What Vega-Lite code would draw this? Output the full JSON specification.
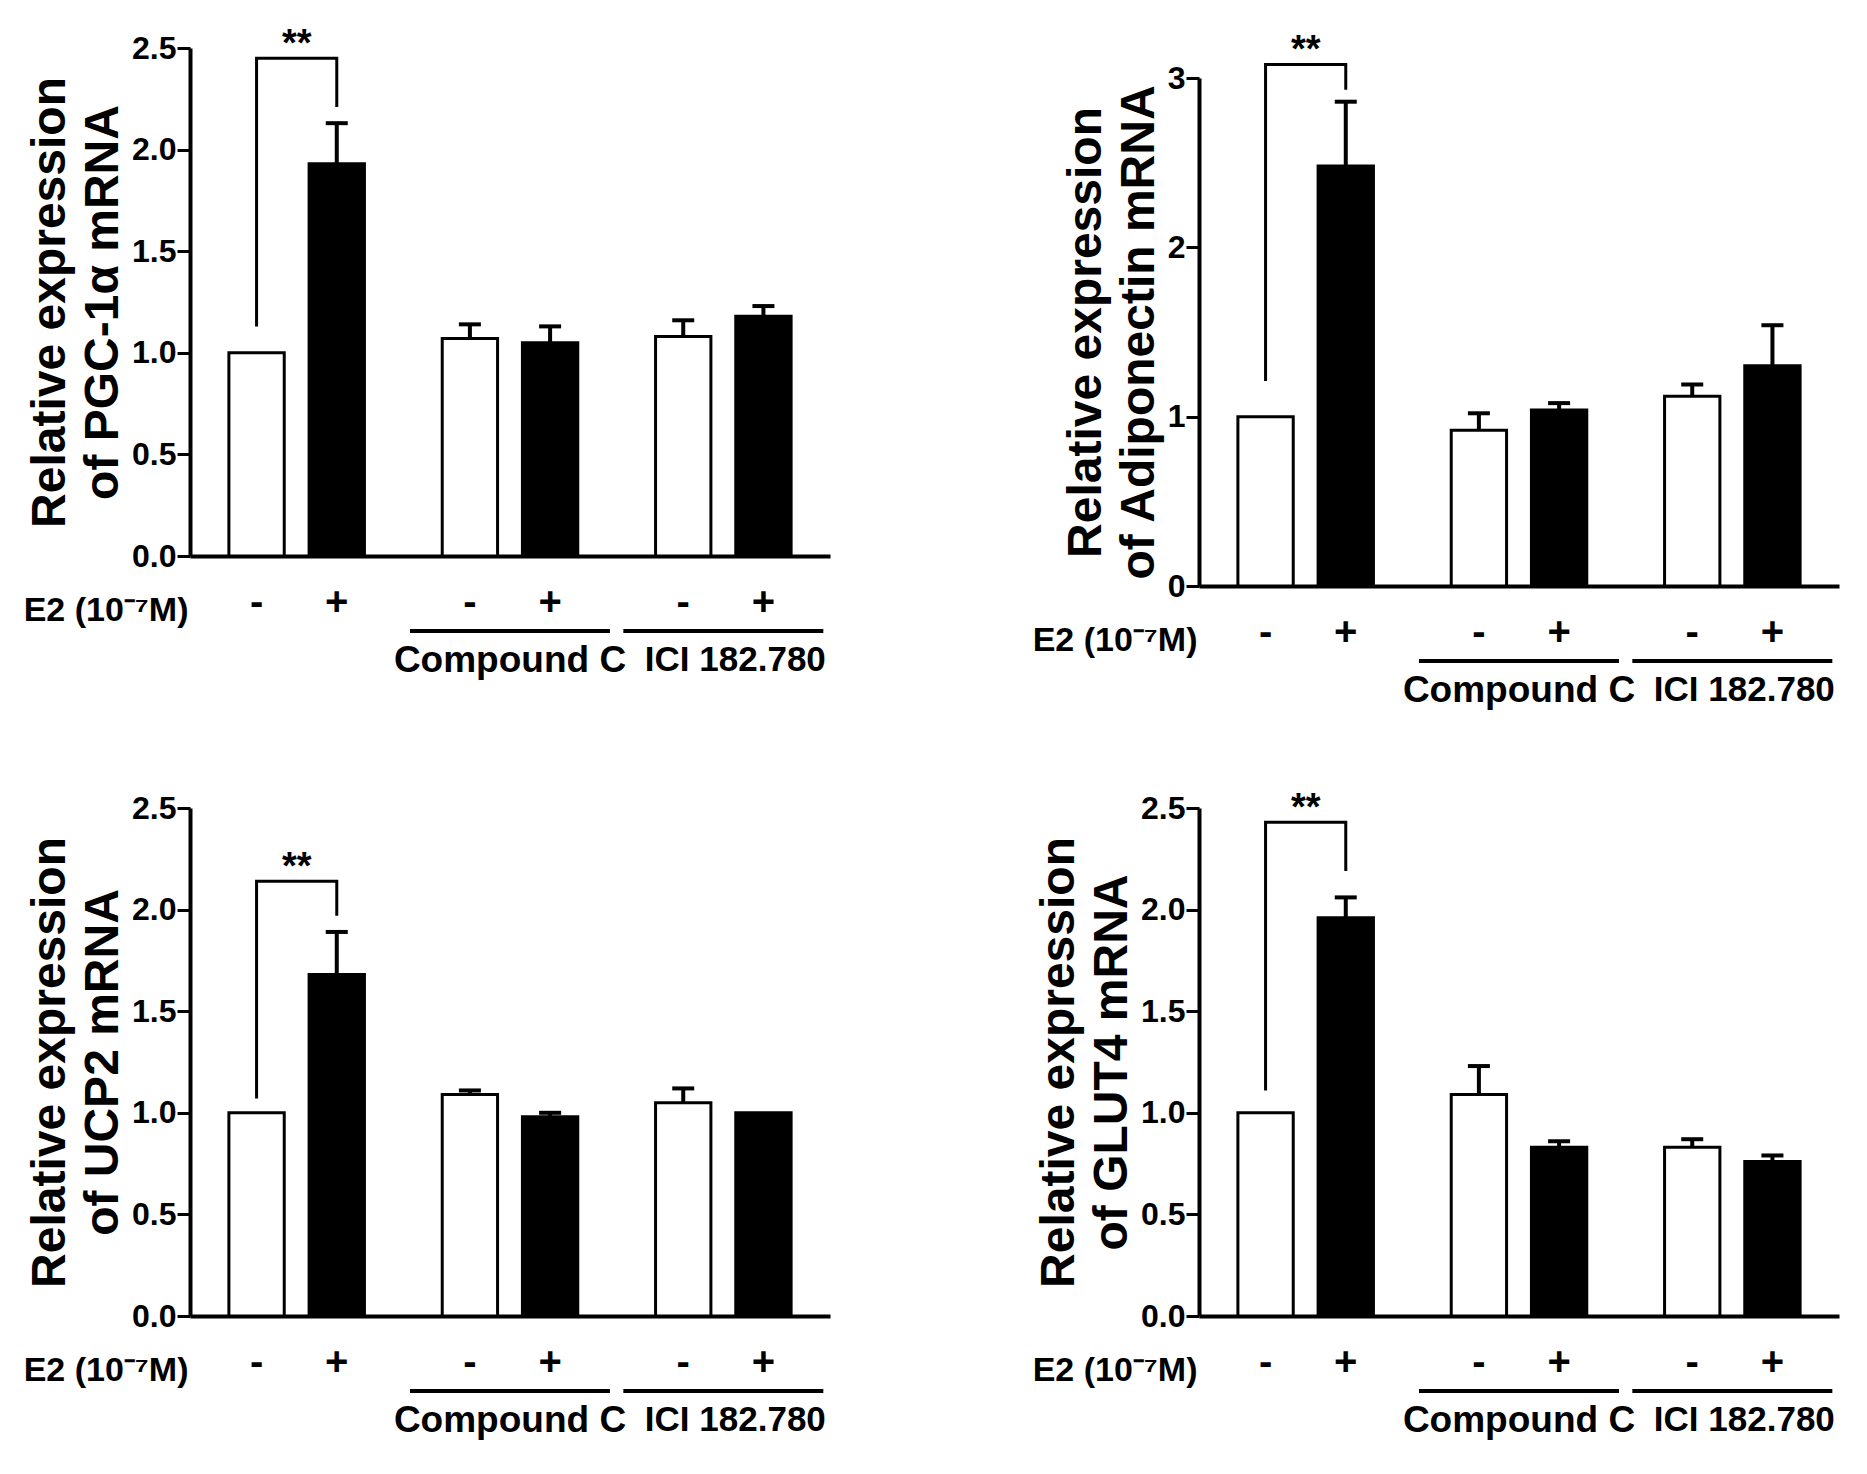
{
  "$schema": "https://vega.github.io/schema/vega-lite/v6.json",
  "background": "white",
  "padding": {"left": 23, "top": 26, "right": 5, "bottom": 5},
  "datasets": {
    "bars": [
      {"gene": "PGC-1α", "group": "Control", "e2": "-", "mean": 1.0, "upper": 1.0},
      {"gene": "PGC-1α", "group": "Control", "e2": "+", "mean": 1.93, "upper": 2.13},
      {"gene": "PGC-1α", "group": "Compound C", "e2": "-", "mean": 1.07, "upper": 1.14},
      {"gene": "PGC-1α", "group": "Compound C", "e2": "+", "mean": 1.05, "upper": 1.13},
      {"gene": "PGC-1α", "group": "ICI 182.780", "e2": "-", "mean": 1.08, "upper": 1.16},
      {"gene": "PGC-1α", "group": "ICI 182.780", "e2": "+", "mean": 1.18, "upper": 1.23},
      {"gene": "Adiponectin", "group": "Control", "e2": "-", "mean": 1.0, "upper": 1.0},
      {"gene": "Adiponectin", "group": "Control", "e2": "+", "mean": 2.48, "upper": 2.86},
      {"gene": "Adiponectin", "group": "Compound C", "e2": "-", "mean": 0.92, "upper": 1.02},
      {"gene": "Adiponectin", "group": "Compound C", "e2": "+", "mean": 1.04, "upper": 1.08},
      {"gene": "Adiponectin", "group": "ICI 182.780", "e2": "-", "mean": 1.12, "upper": 1.19},
      {"gene": "Adiponectin", "group": "ICI 182.780", "e2": "+", "mean": 1.3, "upper": 1.54},
      {"gene": "UCP2", "group": "Control", "e2": "-", "mean": 1.0, "upper": 1.0},
      {"gene": "UCP2", "group": "Control", "e2": "+", "mean": 1.68, "upper": 1.89},
      {"gene": "UCP2", "group": "Compound C", "e2": "-", "mean": 1.09, "upper": 1.11},
      {"gene": "UCP2", "group": "Compound C", "e2": "+", "mean": 0.98, "upper": 1.0},
      {"gene": "UCP2", "group": "ICI 182.780", "e2": "-", "mean": 1.05, "upper": 1.12},
      {"gene": "UCP2", "group": "ICI 182.780", "e2": "+", "mean": 1.0, "upper": 1.0},
      {"gene": "GLUT4", "group": "Control", "e2": "-", "mean": 1.0, "upper": 1.0},
      {"gene": "GLUT4", "group": "Control", "e2": "+", "mean": 1.96, "upper": 2.06},
      {"gene": "GLUT4", "group": "Compound C", "e2": "-", "mean": 1.09, "upper": 1.23},
      {"gene": "GLUT4", "group": "Compound C", "e2": "+", "mean": 0.83, "upper": 0.86},
      {"gene": "GLUT4", "group": "ICI 182.780", "e2": "-", "mean": 0.83, "upper": 0.87},
      {"gene": "GLUT4", "group": "ICI 182.780", "e2": "+", "mean": 0.76, "upper": 0.79}
    ],
    "brackets": [
      {"gene": "PGC-1α", "group": "Control", "e2": "-", "step": 1, "y": 1.13},
      {"gene": "PGC-1α", "group": "Control", "e2": "-", "step": 2, "y": 2.45},
      {"gene": "PGC-1α", "group": "Control", "e2": "+", "step": 3, "y": 2.45},
      {"gene": "PGC-1α", "group": "Control", "e2": "+", "step": 4, "y": 2.21},
      {"gene": "Adiponectin", "group": "Control", "e2": "-", "step": 1, "y": 1.21},
      {"gene": "Adiponectin", "group": "Control", "e2": "-", "step": 2, "y": 3.08},
      {"gene": "Adiponectin", "group": "Control", "e2": "+", "step": 3, "y": 3.08},
      {"gene": "Adiponectin", "group": "Control", "e2": "+", "step": 4, "y": 2.93},
      {"gene": "UCP2", "group": "Control", "e2": "-", "step": 1, "y": 1.07},
      {"gene": "UCP2", "group": "Control", "e2": "-", "step": 2, "y": 2.14},
      {"gene": "UCP2", "group": "Control", "e2": "+", "step": 3, "y": 2.14},
      {"gene": "UCP2", "group": "Control", "e2": "+", "step": 4, "y": 1.97},
      {"gene": "GLUT4", "group": "Control", "e2": "-", "step": 1, "y": 1.11},
      {"gene": "GLUT4", "group": "Control", "e2": "-", "step": 2, "y": 2.43},
      {"gene": "GLUT4", "group": "Control", "e2": "+", "step": 3, "y": 2.43},
      {"gene": "GLUT4", "group": "Control", "e2": "+", "step": 4, "y": 2.19}
    ]
  },
  "vconcat": [
    {
      "hconcat": [
        {
          "width": 640, "height": 508,
          "layer": [
            {
              "data": {"name": "bars"},
              "transform": [{"filter": "datum.gene == 'PGC-1α'"}],
              "mark": {"type": "bar", "stroke": "black", "strokeWidth": 3},
              "encoding": {
                "x": {"field": "group", "type": "nominal", "scale": {"domain": ["Control", "Compound C", "ICI 182.780"], "paddingInner": 0, "paddingOuter": 0}, "axis": {"title": "E2 (10⁻⁷M)"}},
                "xOffset": {"field": "e2", "type": "nominal", "scale": {"domain": ["-", "+"], "paddingInner": 0.31, "paddingOuter": 0.485}},
                "y": {"field": "mean", "type": "quantitative", "scale": {"domain": [0, 2.5], "nice": false}, "axis": {"values": [0, 0.5, 1, 1.5, 2, 2.5], "format": ".1f", "title": ["Relative expression", "of PGC-1α mRNA"]}},
                "fill": {"field": "e2", "type": "nominal", "scale": {"domain": ["-", "+"], "range": ["white", "black"]}, "legend": null}
              }
            },
            {
              "data": {"name": "bars"},
              "transform": [{"filter": "datum.gene == 'PGC-1α' && datum.upper > datum.mean"}],
              "mark": {"type": "rule", "color": "black", "strokeWidth": 4},
              "encoding": {
                "x": {"field": "group", "type": "nominal", "scale": {"domain": ["Control", "Compound C", "ICI 182.780"], "paddingInner": 0, "paddingOuter": 0}, "axis": {"title": "E2 (10⁻⁷M)"}},
                "xOffset": {"field": "e2", "type": "nominal", "scale": {"domain": ["-", "+"], "paddingInner": 0.31, "paddingOuter": 0.485}},
                "y": {"field": "mean", "type": "quantitative", "scale": {"domain": [0, 2.5], "nice": false}, "axis": {"values": [0, 0.5, 1, 1.5, 2, 2.5], "format": ".1f", "title": ["Relative expression", "of PGC-1α mRNA"]}},
                "y2": {"field": "upper"}
              }
            },
            {
              "data": {"name": "bars"},
              "transform": [{"filter": "datum.gene == 'PGC-1α' && datum.upper > datum.mean"}],
              "mark": {"type": "tick", "orient": "horizontal", "color": "black", "size": 22, "thickness": 4, "opacity": 1},
              "encoding": {
                "x": {"field": "group", "type": "nominal", "scale": {"domain": ["Control", "Compound C", "ICI 182.780"], "paddingInner": 0, "paddingOuter": 0}, "axis": {"title": "E2 (10⁻⁷M)"}},
                "xOffset": {"field": "e2", "type": "nominal", "scale": {"domain": ["-", "+"], "paddingInner": 0.31, "paddingOuter": 0.485}},
                "y": {"field": "upper", "type": "quantitative", "scale": {"domain": [0, 2.5], "nice": false}, "axis": {"values": [0, 0.5, 1, 1.5, 2, 2.5], "format": ".1f", "title": ["Relative expression", "of PGC-1α mRNA"]}}
              }
            },
            {
              "data": {"name": "bars"},
              "transform": [{"filter": "datum.gene == 'PGC-1α'"}],
              "mark": {"type": "text", "dy": 47, "baseline": "middle", "fontSize": 40, "fontWeight": "bold", "color": "black"},
              "encoding": {
                "x": {"field": "group", "type": "nominal", "scale": {"domain": ["Control", "Compound C", "ICI 182.780"], "paddingInner": 0, "paddingOuter": 0}, "axis": {"title": "E2 (10⁻⁷M)"}},
                "xOffset": {"field": "e2", "type": "nominal", "scale": {"domain": ["-", "+"], "paddingInner": 0.31, "paddingOuter": 0.485}},
                "y": {"datum": 0, "type": "quantitative", "scale": {"domain": [0, 2.5], "nice": false}, "axis": {"values": [0, 0.5, 1, 1.5, 2, 2.5], "format": ".1f", "title": ["Relative expression", "of PGC-1α mRNA"]}},
                "text": {"field": "e2"}
              }
            },
            {
              "data": {"name": "bars"},
              "transform": [{"filter": "datum.gene == 'PGC-1α' && datum.e2 == '-' && datum.group != 'Control'"}],
              "mark": {"type": "tick", "orient": "horizontal", "color": "black", "size": 200, "thickness": 4, "yOffset": 75, "opacity": 1},
              "encoding": {
                "x": {"field": "group", "type": "nominal", "scale": {"domain": ["Control", "Compound C", "ICI 182.780"], "paddingInner": 0, "paddingOuter": 0}, "axis": {"title": "E2 (10⁻⁷M)"}},
                "y": {"datum": 0, "type": "quantitative", "scale": {"domain": [0, 2.5], "nice": false}, "axis": {"values": [0, 0.5, 1, 1.5, 2, 2.5], "format": ".1f", "title": ["Relative expression", "of PGC-1α mRNA"]}}
              }
            },
            {
              "data": {"name": "brackets"},
              "transform": [{"filter": "datum.gene == 'PGC-1α'"}],
              "mark": {"type": "line", "color": "black", "strokeWidth": 3},
              "encoding": {
                "x": {"field": "group", "type": "nominal", "scale": {"domain": ["Control", "Compound C", "ICI 182.780"], "paddingInner": 0, "paddingOuter": 0}, "axis": {"title": "E2 (10⁻⁷M)"}},
                "xOffset": {"field": "e2", "type": "nominal", "scale": {"domain": ["-", "+"], "paddingInner": 0.31, "paddingOuter": 0.485}},
                "y": {"field": "y", "type": "quantitative", "scale": {"domain": [0, 2.5], "nice": false}, "axis": {"values": [0, 0.5, 1, 1.5, 2, 2.5], "format": ".1f", "title": ["Relative expression", "of PGC-1α mRNA"]}},
                "order": {"field": "step", "type": "quantitative"}
              }
            },
            {
              "data": {"name": "brackets"},
              "transform": [{"filter": "datum.gene == 'PGC-1α' && datum.step == 2"}],
              "mark": {"type": "text", "text": "**", "dy": -2, "baseline": "alphabetic", "fontSize": 38, "fontWeight": "bold", "color": "black"},
              "encoding": {
                "x": {"field": "group", "type": "nominal", "scale": {"domain": ["Control", "Compound C", "ICI 182.780"], "paddingInner": 0, "paddingOuter": 0}, "axis": {"title": "E2 (10⁻⁷M)"}},
                "y": {"field": "y", "type": "quantitative", "scale": {"domain": [0, 2.5], "nice": false}, "axis": {"values": [0, 0.5, 1, 1.5, 2, 2.5], "format": ".1f", "title": ["Relative expression", "of PGC-1α mRNA"]}}
              }
            }
          ]
        },
        {
          "width": 640, "height": 538,
          "layer": [
            {
              "data": {"name": "bars"},
              "transform": [{"filter": "datum.gene == 'Adiponectin'"}],
              "mark": {"type": "bar", "stroke": "black", "strokeWidth": 3},
              "encoding": {
                "x": {"field": "group", "type": "nominal", "scale": {"domain": ["Control", "Compound C", "ICI 182.780"], "paddingInner": 0, "paddingOuter": 0}, "axis": {"title": "E2 (10⁻⁷M)"}},
                "xOffset": {"field": "e2", "type": "nominal", "scale": {"domain": ["-", "+"], "paddingInner": 0.31, "paddingOuter": 0.485}},
                "y": {"field": "mean", "type": "quantitative", "scale": {"domain": [0, 3], "range": [538, 30], "nice": false}, "axis": {"values": [0, 1, 2, 3], "format": "d", "title": ["Relative expression", "of Adiponectin mRNA"]}},
                "fill": {"field": "e2", "type": "nominal", "scale": {"domain": ["-", "+"], "range": ["white", "black"]}, "legend": null}
              }
            },
            {
              "data": {"name": "bars"},
              "transform": [{"filter": "datum.gene == 'Adiponectin' && datum.upper > datum.mean"}],
              "mark": {"type": "rule", "color": "black", "strokeWidth": 4},
              "encoding": {
                "x": {"field": "group", "type": "nominal", "scale": {"domain": ["Control", "Compound C", "ICI 182.780"], "paddingInner": 0, "paddingOuter": 0}, "axis": {"title": "E2 (10⁻⁷M)"}},
                "xOffset": {"field": "e2", "type": "nominal", "scale": {"domain": ["-", "+"], "paddingInner": 0.31, "paddingOuter": 0.485}},
                "y": {"field": "mean", "type": "quantitative", "scale": {"domain": [0, 3], "range": [538, 30], "nice": false}, "axis": {"values": [0, 1, 2, 3], "format": "d", "title": ["Relative expression", "of Adiponectin mRNA"]}},
                "y2": {"field": "upper"}
              }
            },
            {
              "data": {"name": "bars"},
              "transform": [{"filter": "datum.gene == 'Adiponectin' && datum.upper > datum.mean"}],
              "mark": {"type": "tick", "orient": "horizontal", "color": "black", "size": 22, "thickness": 4, "opacity": 1},
              "encoding": {
                "x": {"field": "group", "type": "nominal", "scale": {"domain": ["Control", "Compound C", "ICI 182.780"], "paddingInner": 0, "paddingOuter": 0}, "axis": {"title": "E2 (10⁻⁷M)"}},
                "xOffset": {"field": "e2", "type": "nominal", "scale": {"domain": ["-", "+"], "paddingInner": 0.31, "paddingOuter": 0.485}},
                "y": {"field": "upper", "type": "quantitative", "scale": {"domain": [0, 3], "range": [538, 30], "nice": false}, "axis": {"values": [0, 1, 2, 3], "format": "d", "title": ["Relative expression", "of Adiponectin mRNA"]}}
              }
            },
            {
              "data": {"name": "bars"},
              "transform": [{"filter": "datum.gene == 'Adiponectin'"}],
              "mark": {"type": "text", "dy": 47, "baseline": "middle", "fontSize": 40, "fontWeight": "bold", "color": "black"},
              "encoding": {
                "x": {"field": "group", "type": "nominal", "scale": {"domain": ["Control", "Compound C", "ICI 182.780"], "paddingInner": 0, "paddingOuter": 0}, "axis": {"title": "E2 (10⁻⁷M)"}},
                "xOffset": {"field": "e2", "type": "nominal", "scale": {"domain": ["-", "+"], "paddingInner": 0.31, "paddingOuter": 0.485}},
                "y": {"datum": 0, "type": "quantitative", "scale": {"domain": [0, 3], "range": [538, 30], "nice": false}, "axis": {"values": [0, 1, 2, 3], "format": "d", "title": ["Relative expression", "of Adiponectin mRNA"]}},
                "text": {"field": "e2"}
              }
            },
            {
              "data": {"name": "bars"},
              "transform": [{"filter": "datum.gene == 'Adiponectin' && datum.e2 == '-' && datum.group != 'Control'"}],
              "mark": {"type": "tick", "orient": "horizontal", "color": "black", "size": 200, "thickness": 4, "yOffset": 75, "opacity": 1},
              "encoding": {
                "x": {"field": "group", "type": "nominal", "scale": {"domain": ["Control", "Compound C", "ICI 182.780"], "paddingInner": 0, "paddingOuter": 0}, "axis": {"title": "E2 (10⁻⁷M)"}},
                "y": {"datum": 0, "type": "quantitative", "scale": {"domain": [0, 3], "range": [538, 30], "nice": false}, "axis": {"values": [0, 1, 2, 3], "format": "d", "title": ["Relative expression", "of Adiponectin mRNA"]}}
              }
            },
            {
              "data": {"name": "brackets"},
              "transform": [{"filter": "datum.gene == 'Adiponectin'"}],
              "mark": {"type": "line", "color": "black", "strokeWidth": 3},
              "encoding": {
                "x": {"field": "group", "type": "nominal", "scale": {"domain": ["Control", "Compound C", "ICI 182.780"], "paddingInner": 0, "paddingOuter": 0}, "axis": {"title": "E2 (10⁻⁷M)"}},
                "xOffset": {"field": "e2", "type": "nominal", "scale": {"domain": ["-", "+"], "paddingInner": 0.31, "paddingOuter": 0.485}},
                "y": {"field": "y", "type": "quantitative", "scale": {"domain": [0, 3], "range": [538, 30], "nice": false}, "axis": {"values": [0, 1, 2, 3], "format": "d", "title": ["Relative expression", "of Adiponectin mRNA"]}},
                "order": {"field": "step", "type": "quantitative"}
              }
            },
            {
              "data": {"name": "brackets"},
              "transform": [{"filter": "datum.gene == 'Adiponectin' && datum.step == 2"}],
              "mark": {"type": "text", "text": "**", "dy": -2, "baseline": "alphabetic", "fontSize": 38, "fontWeight": "bold", "color": "black"},
              "encoding": {
                "x": {"field": "group", "type": "nominal", "scale": {"domain": ["Control", "Compound C", "ICI 182.780"], "paddingInner": 0, "paddingOuter": 0}, "axis": {"title": "E2 (10⁻⁷M)"}},
                "y": {"field": "y", "type": "quantitative", "scale": {"domain": [0, 3], "range": [538, 30], "nice": false}, "axis": {"values": [0, 1, 2, 3], "format": "d", "title": ["Relative expression", "of Adiponectin mRNA"]}}
              }
            }
          ]
        }
      ],
      "spacing": 202
    },
    {
      "hconcat": [
        {
          "width": 640, "height": 508,
          "layer": [
            {
              "data": {"name": "bars"},
              "transform": [{"filter": "datum.gene == 'UCP2'"}],
              "mark": {"type": "bar", "stroke": "black", "strokeWidth": 3},
              "encoding": {
                "x": {"field": "group", "type": "nominal", "scale": {"domain": ["Control", "Compound C", "ICI 182.780"], "paddingInner": 0, "paddingOuter": 0}, "axis": {"title": "E2 (10⁻⁷M)"}},
                "xOffset": {"field": "e2", "type": "nominal", "scale": {"domain": ["-", "+"], "paddingInner": 0.31, "paddingOuter": 0.485}},
                "y": {"field": "mean", "type": "quantitative", "scale": {"domain": [0, 2.5], "nice": false}, "axis": {"values": [0, 0.5, 1, 1.5, 2, 2.5], "format": ".1f", "title": ["Relative expression", "of UCP2 mRNA"]}},
                "fill": {"field": "e2", "type": "nominal", "scale": {"domain": ["-", "+"], "range": ["white", "black"]}, "legend": null}
              }
            },
            {
              "data": {"name": "bars"},
              "transform": [{"filter": "datum.gene == 'UCP2' && datum.upper > datum.mean"}],
              "mark": {"type": "rule", "color": "black", "strokeWidth": 4},
              "encoding": {
                "x": {"field": "group", "type": "nominal", "scale": {"domain": ["Control", "Compound C", "ICI 182.780"], "paddingInner": 0, "paddingOuter": 0}, "axis": {"title": "E2 (10⁻⁷M)"}},
                "xOffset": {"field": "e2", "type": "nominal", "scale": {"domain": ["-", "+"], "paddingInner": 0.31, "paddingOuter": 0.485}},
                "y": {"field": "mean", "type": "quantitative", "scale": {"domain": [0, 2.5], "nice": false}, "axis": {"values": [0, 0.5, 1, 1.5, 2, 2.5], "format": ".1f", "title": ["Relative expression", "of UCP2 mRNA"]}},
                "y2": {"field": "upper"}
              }
            },
            {
              "data": {"name": "bars"},
              "transform": [{"filter": "datum.gene == 'UCP2' && datum.upper > datum.mean"}],
              "mark": {"type": "tick", "orient": "horizontal", "color": "black", "size": 22, "thickness": 4, "opacity": 1},
              "encoding": {
                "x": {"field": "group", "type": "nominal", "scale": {"domain": ["Control", "Compound C", "ICI 182.780"], "paddingInner": 0, "paddingOuter": 0}, "axis": {"title": "E2 (10⁻⁷M)"}},
                "xOffset": {"field": "e2", "type": "nominal", "scale": {"domain": ["-", "+"], "paddingInner": 0.31, "paddingOuter": 0.485}},
                "y": {"field": "upper", "type": "quantitative", "scale": {"domain": [0, 2.5], "nice": false}, "axis": {"values": [0, 0.5, 1, 1.5, 2, 2.5], "format": ".1f", "title": ["Relative expression", "of UCP2 mRNA"]}}
              }
            },
            {
              "data": {"name": "bars"},
              "transform": [{"filter": "datum.gene == 'UCP2'"}],
              "mark": {"type": "text", "dy": 47, "baseline": "middle", "fontSize": 40, "fontWeight": "bold", "color": "black"},
              "encoding": {
                "x": {"field": "group", "type": "nominal", "scale": {"domain": ["Control", "Compound C", "ICI 182.780"], "paddingInner": 0, "paddingOuter": 0}, "axis": {"title": "E2 (10⁻⁷M)"}},
                "xOffset": {"field": "e2", "type": "nominal", "scale": {"domain": ["-", "+"], "paddingInner": 0.31, "paddingOuter": 0.485}},
                "y": {"datum": 0, "type": "quantitative", "scale": {"domain": [0, 2.5], "nice": false}, "axis": {"values": [0, 0.5, 1, 1.5, 2, 2.5], "format": ".1f", "title": ["Relative expression", "of UCP2 mRNA"]}},
                "text": {"field": "e2"}
              }
            },
            {
              "data": {"name": "bars"},
              "transform": [{"filter": "datum.gene == 'UCP2' && datum.e2 == '-' && datum.group != 'Control'"}],
              "mark": {"type": "tick", "orient": "horizontal", "color": "black", "size": 200, "thickness": 4, "yOffset": 75, "opacity": 1},
              "encoding": {
                "x": {"field": "group", "type": "nominal", "scale": {"domain": ["Control", "Compound C", "ICI 182.780"], "paddingInner": 0, "paddingOuter": 0}, "axis": {"title": "E2 (10⁻⁷M)"}},
                "y": {"datum": 0, "type": "quantitative", "scale": {"domain": [0, 2.5], "nice": false}, "axis": {"values": [0, 0.5, 1, 1.5, 2, 2.5], "format": ".1f", "title": ["Relative expression", "of UCP2 mRNA"]}}
              }
            },
            {
              "data": {"name": "brackets"},
              "transform": [{"filter": "datum.gene == 'UCP2'"}],
              "mark": {"type": "line", "color": "black", "strokeWidth": 3},
              "encoding": {
                "x": {"field": "group", "type": "nominal", "scale": {"domain": ["Control", "Compound C", "ICI 182.780"], "paddingInner": 0, "paddingOuter": 0}, "axis": {"title": "E2 (10⁻⁷M)"}},
                "xOffset": {"field": "e2", "type": "nominal", "scale": {"domain": ["-", "+"], "paddingInner": 0.31, "paddingOuter": 0.485}},
                "y": {"field": "y", "type": "quantitative", "scale": {"domain": [0, 2.5], "nice": false}, "axis": {"values": [0, 0.5, 1, 1.5, 2, 2.5], "format": ".1f", "title": ["Relative expression", "of UCP2 mRNA"]}},
                "order": {"field": "step", "type": "quantitative"}
              }
            },
            {
              "data": {"name": "brackets"},
              "transform": [{"filter": "datum.gene == 'UCP2' && datum.step == 2"}],
              "mark": {"type": "text", "text": "**", "dy": -2, "baseline": "alphabetic", "fontSize": 38, "fontWeight": "bold", "color": "black"},
              "encoding": {
                "x": {"field": "group", "type": "nominal", "scale": {"domain": ["Control", "Compound C", "ICI 182.780"], "paddingInner": 0, "paddingOuter": 0}, "axis": {"title": "E2 (10⁻⁷M)"}},
                "y": {"field": "y", "type": "quantitative", "scale": {"domain": [0, 2.5], "nice": false}, "axis": {"values": [0, 0.5, 1, 1.5, 2, 2.5], "format": ".1f", "title": ["Relative expression", "of UCP2 mRNA"]}}
              }
            }
          ]
        },
        {
          "width": 640, "height": 508,
          "layer": [
            {
              "data": {"name": "bars"},
              "transform": [{"filter": "datum.gene == 'GLUT4'"}],
              "mark": {"type": "bar", "stroke": "black", "strokeWidth": 3},
              "encoding": {
                "x": {"field": "group", "type": "nominal", "scale": {"domain": ["Control", "Compound C", "ICI 182.780"], "paddingInner": 0, "paddingOuter": 0}, "axis": {"title": "E2 (10⁻⁷M)"}},
                "xOffset": {"field": "e2", "type": "nominal", "scale": {"domain": ["-", "+"], "paddingInner": 0.31, "paddingOuter": 0.485}},
                "y": {"field": "mean", "type": "quantitative", "scale": {"domain": [0, 2.5], "nice": false}, "axis": {"values": [0, 0.5, 1, 1.5, 2, 2.5], "format": ".1f", "title": ["Relative expression", "of GLUT4 mRNA"]}},
                "fill": {"field": "e2", "type": "nominal", "scale": {"domain": ["-", "+"], "range": ["white", "black"]}, "legend": null}
              }
            },
            {
              "data": {"name": "bars"},
              "transform": [{"filter": "datum.gene == 'GLUT4' && datum.upper > datum.mean"}],
              "mark": {"type": "rule", "color": "black", "strokeWidth": 4},
              "encoding": {
                "x": {"field": "group", "type": "nominal", "scale": {"domain": ["Control", "Compound C", "ICI 182.780"], "paddingInner": 0, "paddingOuter": 0}, "axis": {"title": "E2 (10⁻⁷M)"}},
                "xOffset": {"field": "e2", "type": "nominal", "scale": {"domain": ["-", "+"], "paddingInner": 0.31, "paddingOuter": 0.485}},
                "y": {"field": "mean", "type": "quantitative", "scale": {"domain": [0, 2.5], "nice": false}, "axis": {"values": [0, 0.5, 1, 1.5, 2, 2.5], "format": ".1f", "title": ["Relative expression", "of GLUT4 mRNA"]}},
                "y2": {"field": "upper"}
              }
            },
            {
              "data": {"name": "bars"},
              "transform": [{"filter": "datum.gene == 'GLUT4' && datum.upper > datum.mean"}],
              "mark": {"type": "tick", "orient": "horizontal", "color": "black", "size": 22, "thickness": 4, "opacity": 1},
              "encoding": {
                "x": {"field": "group", "type": "nominal", "scale": {"domain": ["Control", "Compound C", "ICI 182.780"], "paddingInner": 0, "paddingOuter": 0}, "axis": {"title": "E2 (10⁻⁷M)"}},
                "xOffset": {"field": "e2", "type": "nominal", "scale": {"domain": ["-", "+"], "paddingInner": 0.31, "paddingOuter": 0.485}},
                "y": {"field": "upper", "type": "quantitative", "scale": {"domain": [0, 2.5], "nice": false}, "axis": {"values": [0, 0.5, 1, 1.5, 2, 2.5], "format": ".1f", "title": ["Relative expression", "of GLUT4 mRNA"]}}
              }
            },
            {
              "data": {"name": "bars"},
              "transform": [{"filter": "datum.gene == 'GLUT4'"}],
              "mark": {"type": "text", "dy": 47, "baseline": "middle", "fontSize": 40, "fontWeight": "bold", "color": "black"},
              "encoding": {
                "x": {"field": "group", "type": "nominal", "scale": {"domain": ["Control", "Compound C", "ICI 182.780"], "paddingInner": 0, "paddingOuter": 0}, "axis": {"title": "E2 (10⁻⁷M)"}},
                "xOffset": {"field": "e2", "type": "nominal", "scale": {"domain": ["-", "+"], "paddingInner": 0.31, "paddingOuter": 0.485}},
                "y": {"datum": 0, "type": "quantitative", "scale": {"domain": [0, 2.5], "nice": false}, "axis": {"values": [0, 0.5, 1, 1.5, 2, 2.5], "format": ".1f", "title": ["Relative expression", "of GLUT4 mRNA"]}},
                "text": {"field": "e2"}
              }
            },
            {
              "data": {"name": "bars"},
              "transform": [{"filter": "datum.gene == 'GLUT4' && datum.e2 == '-' && datum.group != 'Control'"}],
              "mark": {"type": "tick", "orient": "horizontal", "color": "black", "size": 200, "thickness": 4, "yOffset": 75, "opacity": 1},
              "encoding": {
                "x": {"field": "group", "type": "nominal", "scale": {"domain": ["Control", "Compound C", "ICI 182.780"], "paddingInner": 0, "paddingOuter": 0}, "axis": {"title": "E2 (10⁻⁷M)"}},
                "y": {"datum": 0, "type": "quantitative", "scale": {"domain": [0, 2.5], "nice": false}, "axis": {"values": [0, 0.5, 1, 1.5, 2, 2.5], "format": ".1f", "title": ["Relative expression", "of GLUT4 mRNA"]}}
              }
            },
            {
              "data": {"name": "brackets"},
              "transform": [{"filter": "datum.gene == 'GLUT4'"}],
              "mark": {"type": "line", "color": "black", "strokeWidth": 3},
              "encoding": {
                "x": {"field": "group", "type": "nominal", "scale": {"domain": ["Control", "Compound C", "ICI 182.780"], "paddingInner": 0, "paddingOuter": 0}, "axis": {"title": "E2 (10⁻⁷M)"}},
                "xOffset": {"field": "e2", "type": "nominal", "scale": {"domain": ["-", "+"], "paddingInner": 0.31, "paddingOuter": 0.485}},
                "y": {"field": "y", "type": "quantitative", "scale": {"domain": [0, 2.5], "nice": false}, "axis": {"values": [0, 0.5, 1, 1.5, 2, 2.5], "format": ".1f", "title": ["Relative expression", "of GLUT4 mRNA"]}},
                "order": {"field": "step", "type": "quantitative"}
              }
            },
            {
              "data": {"name": "brackets"},
              "transform": [{"filter": "datum.gene == 'GLUT4' && datum.step == 2"}],
              "mark": {"type": "text", "text": "**", "dy": -2, "baseline": "alphabetic", "fontSize": 38, "fontWeight": "bold", "color": "black"},
              "encoding": {
                "x": {"field": "group", "type": "nominal", "scale": {"domain": ["Control", "Compound C", "ICI 182.780"], "paddingInner": 0, "paddingOuter": 0}, "axis": {"title": "E2 (10⁻⁷M)"}},
                "y": {"field": "y", "type": "quantitative", "scale": {"domain": [0, 2.5], "nice": false}, "axis": {"values": [0, 0.5, 1, 1.5, 2, 2.5], "format": ".1f", "title": ["Relative expression", "of GLUT4 mRNA"]}}
              }
            }
          ]
        }
      ],
      "spacing": 202
    }
  ],
  "spacing": 82,
  "config": {
    "font": "Liberation Sans",
    "view": {"stroke": null},
    "axis": {
      "grid": false,
      "domainColor": "black",
      "domainWidth": 4,
      "tickColor": "black",
      "tickWidth": 3,
      "labelColor": "black",
      "labelFont": "Liberation Sans",
      "labelFontWeight": "bold",
      "labelOverlap": false,
      "titleColor": "black",
      "titleFont": "Liberation Sans",
      "titleFontWeight": "bold"
    },
    "axisY": {
      "tickSize": 13,
      "labelPadding": 1,
      "labelFontSize": 32,
      "titleFontSize": 48,
      "titleLineHeight": 53,
      "titlePadding": 4
    },
    "axisX": {
      "ticks": false,
      "labelAngle": 0,
      "labelFontSize": {"condition": {"test": "datum.value == 'ICI 182.780'", "value": 35}, "value": 37},
      "labelOffset": {"condition": {"test": "datum.value == 'ICI 182.780'", "value": 12}, "value": 0},
      "labelPadding": 86,
      "labelFlush": false,
      "labelLimit": 0,
      "labelExpr": "datum.value == 'Control' ? '' : datum.value",
      "titleFontSize": 34,
      "titleAngle": 0,
      "titleX": -2,
      "titleY": 54,
      "titleAlign": "right",
      "titleBaseline": "middle"
    }
  }
}
